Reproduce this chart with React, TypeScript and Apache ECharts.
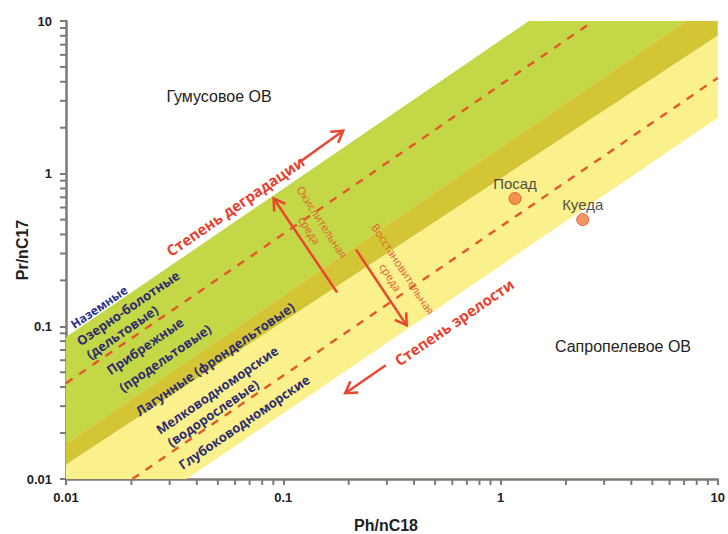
import React, { useEffect, useRef } from 'react';
import * as echarts from 'echarts';

// Axis tick labels
const xTickLabels = ['0.01', '0.1', '1', '10'];
const yTickLabels = ['0.01', '0.1', '1', '10'];
const minorTickValues = [
  0.02, 0.03, 0.04, 0.05, 0.06, 0.07, 0.08, 0.09,
  0.2, 0.3, 0.4, 0.5, 0.6, 0.7, 0.8, 0.9,
  2, 3, 4, 5, 6, 7, 8, 9,
];

// Facies bands (Ph/nC18, Pr/nC17) vertices
const greenBand = [[0.01, 0.085], [1.35, 10], [7.13, 10], [0.01, 0.017]];
const oliveBand = [[0.01, 0.017], [7.13, 10], [10, 10], [10, 8.0], [0.01, 0.0124]];
const yellowBand = [[0.01, 0.0124], [10, 8.0], [10, 2.32], [0.0359, 0.01], [0.01, 0.01]];

// Dashed guide lines
const upperDashed = [[0.01, 0.0424], [2.68, 10]];
const lowerDashed = [[0.0202, 0.01], [10, 4.24]];

// Samples
const sampleNames = ['Посад', 'Куеда'];
const samplePh = [1.166, 2.39];
const samplePr = [0.687, 0.5];

// Arrows: [from, to]
const arrowDegradation = [[0.1213, 1.216], [0.1888, 1.91]];
const arrowMaturity = [[0.2965, 0.0556], [0.1928, 0.0365]];
const arrowOxidizing = [[0.177, 0.1667], [0.0903, 0.687]];
const arrowReducing = [[0.2163, 0.318], [0.37, 0.1015]];

const App: React.FC = () => {
  const ref = useRef<HTMLDivElement>(null);

  useEffect(() => {
    if (!ref.current) return;
    const chart = echarts.init(ref.current, undefined, { renderer: 'svg' });

    const bands = [
      { pts: greenBand, color: '#c4d746' },
      { pts: oliveBand, color: '#d4c534' },
      { pts: yellowBand, color: '#faf08c' },
    ];
    const arrows = [arrowDegradation, arrowMaturity, arrowOxidizing, arrowReducing];
    const arrowColor = '#e8472f';
    const axisColor = '#7f7a74';
    const navy = '#2d2b72';
    const textFont = "'Liberation Sans', Arial, sans-serif";
    const bandFont = "'Open Sans', 'Noto Sans', sans-serif";

    const fmt = (labels: string[]) => (v: number) => {
      const e = Math.round(Math.log10(v));
      return labels[e + 2] ?? '';
    };

    const rotUp = (34.5 * Math.PI) / 180;
    const rotDown = (-57 * Math.PI) / 180;

    const bandText = (text: string, x: number, y: number, color = navy, size = 13) => ({
      type: 'text',
      x,
      y,
      rotation: rotUp,
      z: 100,
      style: {
        text,
        fill: color,
        fontSize: size,
        fontWeight: 'bold',
        fontFamily: bandFont,
        align: 'center',
        verticalAlign: 'middle',
      },
    });

    const option: any = {
      animation: false,
      backgroundColor: '#ffffff',
      grid: { left: 66, right: 6, top: 21, bottom: 55, containLabel: false },
      xAxis: {
        type: 'log',
        logBase: 10,
        min: 0.01,
        max: 10,
        axisLine: { show: true, lineStyle: { color: axisColor, width: 2.5 } },
        axisTick: { show: true, length: 6, inside: false, lineStyle: { color: axisColor, width: 2 } },
        splitLine: { show: false },
        axisLabel: {
          color: '#222',
          fontSize: 13,
          fontWeight: 'bold',
          fontFamily: textFont,
          margin: 12,
          formatter: fmt(xTickLabels),
        },
      },
      yAxis: {
        type: 'log',
        logBase: 10,
        min: 0.01,
        max: 10,
        axisLine: { show: true, lineStyle: { color: axisColor, width: 2.5 } },
        axisTick: { show: true, length: 6, inside: false, lineStyle: { color: axisColor, width: 2 } },
        splitLine: { show: false },
        axisLabel: {
          color: '#222',
          fontSize: 13,
          fontWeight: 'bold',
          fontFamily: textFont,
          margin: 14,
          formatter: fmt(yTickLabels),
        },
      },
      series: [
        {
          type: 'custom',
          name: 'bands',
          z: 1,
          clip: true,
          data: bands.map((b) => b.pts[0]),
          renderItem: (params: any, api: any) => {
            const b = bands[params.dataIndex];
            return {
              type: 'polygon',
              shape: { points: b.pts.map((p) => api.coord(p)) },
              style: { fill: b.color, stroke: null },
            };
          },
        },
        {
          type: 'line',
          name: 'upperDashed',
          z: 3,
          data: upperDashed,
          symbol: 'none',
          lineStyle: { color: '#e4572c', width: 2.4, type: [8, 8] },
        },
        {
          type: 'line',
          name: 'lowerDashed',
          z: 3,
          data: lowerDashed,
          symbol: 'none',
          lineStyle: { color: '#e4572c', width: 2.4, type: [8, 8] },
        },
        {
          type: 'custom',
          name: 'arrows',
          z: 4,
          data: arrows.map((a) => a[0]),
          renderItem: (params: any, api: any) => {
            const a = arrows[params.dataIndex];
            const p0 = api.coord(a[0]);
            const p1 = api.coord(a[1]);
            const ang = Math.atan2(p1[1] - p0[1], p1[0] - p0[0]);
            const L = 13;
            const w = 0.55;
            const h1 = [p1[0] - L * Math.cos(ang - w), p1[1] - L * Math.sin(ang - w)];
            const h2 = [p1[0] - L * Math.cos(ang + w), p1[1] - L * Math.sin(ang + w)];
            return {
              type: 'group',
              children: [
                {
                  type: 'line',
                  shape: { x1: p0[0], y1: p0[1], x2: p1[0], y2: p1[1] },
                  style: { stroke: arrowColor, lineWidth: 2.5 },
                },
                {
                  type: 'polyline',
                  shape: { points: [h1, p1, h2] },
                  style: { stroke: arrowColor, lineWidth: 2.5, fill: null, lineJoin: 'miter' },
                },
              ],
            };
          },
        },
        {
          type: 'custom',
          name: 'minorTicks',
          z: 5,
          clip: false,
          data: minorTickValues.map((v) => [v, v]),
          renderItem: (params: any, api: any) => {
            const v = minorTickValues[params.dataIndex];
            const px = api.coord([v, 0.01]);
            const py = api.coord([0.01, v]);
            return {
              type: 'group',
              children: [
                {
                  type: 'line',
                  shape: { x1: px[0], y1: px[1], x2: px[0], y2: px[1] + 6 },
                  style: { stroke: axisColor, lineWidth: 2 },
                },
                {
                  type: 'line',
                  shape: { x1: py[0] - 6, y1: py[1], x2: py[0], y2: py[1] },
                  style: { stroke: axisColor, lineWidth: 2 },
                },
              ],
            };
          },
        },
        {
          type: 'scatter',
          name: 'samples',
          z: 6,
          symbolSize: 12,
          itemStyle: { color: '#f07b3f', borderColor: '#d5502a', borderWidth: 1 },
          label: {
            show: true,
            position: 'top',
            distance: 1,
            formatter: '{b}',
            color: '#222',
            fontSize: 15,
            fontFamily: textFont,
          },
          data: sampleNames.map((n, i) => ({ name: n, value: [samplePh[i], samplePr[i]] })),
        },
      ],
      graphic: [
        {
          type: 'text',
          x: 219,
          y: 96,
          z: 100,
          style: { text: 'Гумусовое ОВ', fill: '#222', fontSize: 16, fontFamily: textFont, align: 'center', verticalAlign: 'middle' },
        },
        {
          type: 'text',
          x: 623,
          y: 346,
          z: 100,
          style: { text: 'Сапропелевое ОВ', fill: '#222', fontSize: 16, fontFamily: textFont, align: 'center', verticalAlign: 'middle' },
        },
        {
          type: 'text',
          x: 22,
          y: 250,
          z: 100,
          rotation: Math.PI / 2,
          style: { text: 'Pr/nC17', fill: '#222', fontSize: 16, fontWeight: 'bold', fontFamily: textFont, align: 'center', verticalAlign: 'middle' },
        },
        {
          type: 'text',
          x: 386,
          y: 525,
          z: 100,
          style: { text: 'Ph/nC18', fill: '#222', fontSize: 16, fontWeight: 'bold', fontFamily: textFont, align: 'center', verticalAlign: 'middle' },
        },
        {
          type: 'text',
          x: 235,
          y: 206,
          z: 100,
          rotation: rotUp,
          style: { text: 'Степень деградации', fill: '#e8402e', fontSize: 15, fontWeight: 'bold', fontFamily: bandFont, align: 'center', verticalAlign: 'middle' },
        },
        {
          type: 'text',
          x: 454,
          y: 322,
          z: 100,
          rotation: rotUp,
          style: { text: 'Степень зрелости', fill: '#e8402e', fontSize: 15, fontWeight: 'bold', fontFamily: bandFont, align: 'center', verticalAlign: 'middle' },
        },
        {
          type: 'text',
          x: 316,
          y: 226,
          z: 100,
          rotation: rotDown,
          style: { text: 'Окислительная\nсреда', fill: '#e0602e', fontSize: 11, fontFamily: bandFont, align: 'center', verticalAlign: 'middle', lineHeight: 15 },
        },
        {
          type: 'text',
          x: 397,
          y: 273,
          z: 100,
          rotation: rotDown,
          style: { text: 'Восстановительная\nсреда', fill: '#e0602e', fontSize: 11, fontFamily: bandFont, align: 'center', verticalAlign: 'middle', lineHeight: 15 },
        },
        bandText('Наземные', 99, 307, '#2b2f8c', 12),
        bandText('Озерно-болотные', 128, 308),
        bandText('(дельтовые)', 122, 332),
        bandText('Прибрежные', 145, 346),
        bandText('(продельтовые)', 165, 358),
        bandText('Лагунные (фрондельтовые)', 215, 359),
        bandText('Мелководноморские', 217, 390),
        bandText('(водорослевые)', 213, 413),
        bandText('Глубоководноморские', 244, 422),
      ],
    };

    chart.setOption(option);
    return () => {
      chart.dispose();
    };
  }, []);

  return <div ref={ref} style={{ position: 'fixed', left: 0, top: 0, width: 728, height: 534 }} />;
};

export default App;
